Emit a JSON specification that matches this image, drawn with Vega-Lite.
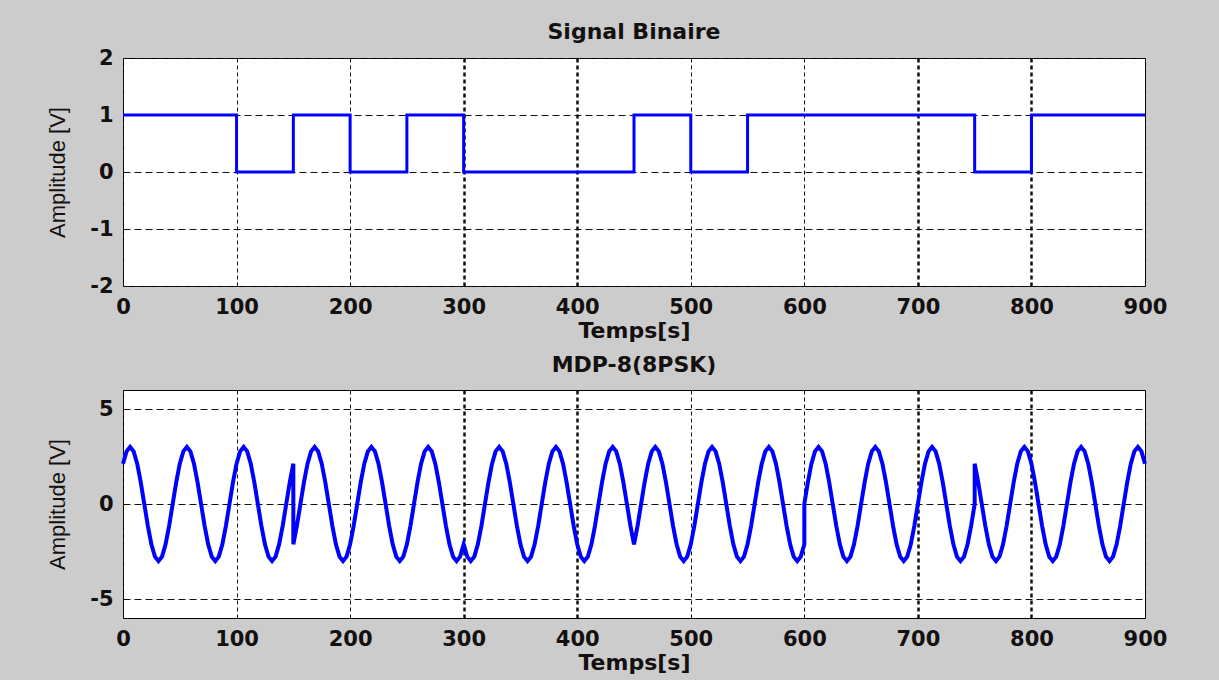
{
  "$schema": "https://vega.github.io/schema/vega-lite/v6.json",
  "background": "#cccccc",
  "padding": {"left": 46, "top": 20, "right": 51, "bottom": 6},
  "spacing": 11,
  "config": {
    "view": {"stroke": "#000000", "strokeWidth": 1, "fill": "#ffffff"},
    "axis": {
      "grid": true, "gridColor": "#111111", "gridOpacity": 1,
      "domain": false, "ticks": false,
      "labelFont": "DejaVu Sans", "labelFontSize": 21, "labelFontWeight": "bold", "labelColor": "#141010",
      "labelFlush": false, "labelOverlap": false, "labelPadding": 10,
      "titleFont": "DejaVu Sans", "titleFontSize": 22, "titleFontWeight": "bold", "titleColor": "#141010"
    },
    "axisX": {"gridDash": [4, 3], "labelPadding": 10, "titlePadding": 3},
    "axisY": {"gridDash": [7, 4], "gridWidth": 1, "labelExpr": "'' + datum.value", "titleFont": "Liberation Sans", "titleFontWeight": "normal", "titleFontSize": 22, "titlePadding": 20},
    "title": {"font": "DejaVu Sans", "fontSize": 22, "fontWeight": "bold", "color": "#141010"}
  },
  "datasets": {
    "binary": [
      {"t": 0, "v": 1}, {"t": 100, "v": 0}, {"t": 150, "v": 1}, {"t": 200, "v": 0},
      {"t": 250, "v": 1}, {"t": 300, "v": 0}, {"t": 450, "v": 1}, {"t": 500, "v": 0},
      {"t": 550, "v": 1}, {"t": 750, "v": 0}, {"t": 800, "v": 1}, {"t": 900, "v": 1}
    ],
    "psk": [
      {"t":0,"v":2.121},{"t":3.125,"v":2.772},{"t":6.25,"v":3},{"t":9.375,"v":2.772},{"t":12.5,"v":2.121},{"t":15.625,"v":1.148},{"t":18.75,"v":0},{"t":21.875,"v":-1.148},{"t":25,"v":-2.121},{"t":28.125,"v":-2.772},{"t":31.25,"v":-3},{"t":34.375,"v":-2.772},{"t":37.5,"v":-2.121},{"t":40.625,"v":-1.148},{"t":43.75,"v":0},{"t":46.875,"v":1.148},
      {"t":50,"v":2.121},{"t":53.125,"v":2.772},{"t":56.25,"v":3},{"t":59.375,"v":2.772},{"t":62.5,"v":2.121},{"t":65.625,"v":1.148},{"t":68.75,"v":0},{"t":71.875,"v":-1.148},{"t":75,"v":-2.121},{"t":78.125,"v":-2.772},{"t":81.25,"v":-3},{"t":84.375,"v":-2.772},{"t":87.5,"v":-2.121},{"t":90.625,"v":-1.148},{"t":93.75,"v":0},{"t":96.875,"v":1.148},
      {"t":100,"v":2.121},{"t":103.125,"v":2.772},{"t":106.25,"v":3},{"t":109.375,"v":2.772},{"t":112.5,"v":2.121},{"t":115.625,"v":1.148},{"t":118.75,"v":0},{"t":121.875,"v":-1.148},{"t":125,"v":-2.121},{"t":128.125,"v":-2.772},{"t":131.25,"v":-3},{"t":134.375,"v":-2.772},{"t":137.5,"v":-2.121},{"t":140.625,"v":-1.148},{"t":143.75,"v":0},{"t":146.875,"v":1.148},
      {"t":150,"v":2.121},
      {"t":150,"v":-2.121},{"t":153.125,"v":-1.148},{"t":156.25,"v":0},{"t":159.375,"v":1.148},{"t":162.5,"v":2.121},{"t":165.625,"v":2.772},{"t":168.75,"v":3},{"t":171.875,"v":2.772},{"t":175,"v":2.121},{"t":178.125,"v":1.148},{"t":181.25,"v":0},{"t":184.375,"v":-1.148},{"t":187.5,"v":-2.121},{"t":190.625,"v":-2.772},{"t":193.75,"v":-3},{"t":196.875,"v":-2.772},
      {"t":200,"v":-2.121},{"t":203.125,"v":-1.148},{"t":206.25,"v":0},{"t":209.375,"v":1.148},{"t":212.5,"v":2.121},{"t":215.625,"v":2.772},{"t":218.75,"v":3},{"t":221.875,"v":2.772},{"t":225,"v":2.121},{"t":228.125,"v":1.148},{"t":231.25,"v":0},{"t":234.375,"v":-1.148},{"t":237.5,"v":-2.121},{"t":240.625,"v":-2.772},{"t":243.75,"v":-3},{"t":246.875,"v":-2.772},
      {"t":250,"v":-2.121},{"t":253.125,"v":-1.148},{"t":256.25,"v":0},{"t":259.375,"v":1.148},{"t":262.5,"v":2.121},{"t":265.625,"v":2.772},{"t":268.75,"v":3},{"t":271.875,"v":2.772},{"t":275,"v":2.121},{"t":278.125,"v":1.148},{"t":281.25,"v":0},{"t":284.375,"v":-1.148},{"t":287.5,"v":-2.121},{"t":290.625,"v":-2.772},{"t":293.75,"v":-3},{"t":296.875,"v":-2.772},
      {"t":300,"v":-2.121},{"t":303.125,"v":-2.772},{"t":306.25,"v":-3},{"t":309.375,"v":-2.772},{"t":312.5,"v":-2.121},{"t":315.625,"v":-1.148},{"t":318.75,"v":0},{"t":321.875,"v":1.148},{"t":325,"v":2.121},{"t":328.125,"v":2.772},{"t":331.25,"v":3},{"t":334.375,"v":2.772},{"t":337.5,"v":2.121},{"t":340.625,"v":1.148},{"t":343.75,"v":0},{"t":346.875,"v":-1.148},
      {"t":350,"v":-2.121},{"t":353.125,"v":-2.772},{"t":356.25,"v":-3},{"t":359.375,"v":-2.772},{"t":362.5,"v":-2.121},{"t":365.625,"v":-1.148},{"t":368.75,"v":0},{"t":371.875,"v":1.148},{"t":375,"v":2.121},{"t":378.125,"v":2.772},{"t":381.25,"v":3},{"t":384.375,"v":2.772},{"t":387.5,"v":2.121},{"t":390.625,"v":1.148},{"t":393.75,"v":0},{"t":396.875,"v":-1.148},
      {"t":400,"v":-2.121},{"t":403.125,"v":-2.772},{"t":406.25,"v":-3},{"t":409.375,"v":-2.772},{"t":412.5,"v":-2.121},{"t":415.625,"v":-1.148},{"t":418.75,"v":0},{"t":421.875,"v":1.148},{"t":425,"v":2.121},{"t":428.125,"v":2.772},{"t":431.25,"v":3},{"t":434.375,"v":2.772},{"t":437.5,"v":2.121},{"t":440.625,"v":1.148},{"t":443.75,"v":0},{"t":446.875,"v":-1.148},
      {"t":450,"v":-2.121},{"t":453.125,"v":-1.148},{"t":456.25,"v":0},{"t":459.375,"v":1.148},{"t":462.5,"v":2.121},{"t":465.625,"v":2.772},{"t":468.75,"v":3},{"t":471.875,"v":2.772},{"t":475,"v":2.121},{"t":478.125,"v":1.148},{"t":481.25,"v":0},{"t":484.375,"v":-1.148},{"t":487.5,"v":-2.121},{"t":490.625,"v":-2.772},{"t":493.75,"v":-3},{"t":496.875,"v":-2.772},
      {"t":500,"v":-2.121},{"t":503.125,"v":-1.148},{"t":506.25,"v":0},{"t":509.375,"v":1.148},{"t":512.5,"v":2.121},{"t":515.625,"v":2.772},{"t":518.75,"v":3},{"t":521.875,"v":2.772},{"t":525,"v":2.121},{"t":528.125,"v":1.148},{"t":531.25,"v":0},{"t":534.375,"v":-1.148},{"t":537.5,"v":-2.121},{"t":540.625,"v":-2.772},{"t":543.75,"v":-3},{"t":546.875,"v":-2.772},
      {"t":550,"v":-2.121},{"t":553.125,"v":-1.148},{"t":556.25,"v":0},{"t":559.375,"v":1.148},{"t":562.5,"v":2.121},{"t":565.625,"v":2.772},{"t":568.75,"v":3},{"t":571.875,"v":2.772},{"t":575,"v":2.121},{"t":578.125,"v":1.148},{"t":581.25,"v":0},{"t":584.375,"v":-1.148},{"t":587.5,"v":-2.121},{"t":590.625,"v":-2.772},{"t":593.75,"v":-3},{"t":596.875,"v":-2.772},
      {"t":600,"v":-2.121},
      {"t":600,"v":0},{"t":603.125,"v":1.148},{"t":606.25,"v":2.121},{"t":609.375,"v":2.772},{"t":612.5,"v":3},{"t":615.625,"v":2.772},{"t":618.75,"v":2.121},{"t":621.875,"v":1.148},{"t":625,"v":0},{"t":628.125,"v":-1.148},{"t":631.25,"v":-2.121},{"t":634.375,"v":-2.772},{"t":637.5,"v":-3},{"t":640.625,"v":-2.772},{"t":643.75,"v":-2.121},{"t":646.875,"v":-1.148},
      {"t":650,"v":0},{"t":653.125,"v":1.148},{"t":656.25,"v":2.121},{"t":659.375,"v":2.772},{"t":662.5,"v":3},{"t":665.625,"v":2.772},{"t":668.75,"v":2.121},{"t":671.875,"v":1.148},{"t":675,"v":0},{"t":678.125,"v":-1.148},{"t":681.25,"v":-2.121},{"t":684.375,"v":-2.772},{"t":687.5,"v":-3},{"t":690.625,"v":-2.772},{"t":693.75,"v":-2.121},{"t":696.875,"v":-1.148},
      {"t":700,"v":0},{"t":703.125,"v":1.148},{"t":706.25,"v":2.121},{"t":709.375,"v":2.772},{"t":712.5,"v":3},{"t":715.625,"v":2.772},{"t":718.75,"v":2.121},{"t":721.875,"v":1.148},{"t":725,"v":0},{"t":728.125,"v":-1.148},{"t":731.25,"v":-2.121},{"t":734.375,"v":-2.772},{"t":737.5,"v":-3},{"t":740.625,"v":-2.772},{"t":743.75,"v":-2.121},{"t":746.875,"v":-1.148},
      {"t":750,"v":0},
      {"t":750,"v":2.121},{"t":753.125,"v":1.148},{"t":756.25,"v":0},{"t":759.375,"v":-1.148},{"t":762.5,"v":-2.121},{"t":765.625,"v":-2.772},{"t":768.75,"v":-3},{"t":771.875,"v":-2.772},{"t":775,"v":-2.121},{"t":778.125,"v":-1.148},{"t":781.25,"v":0},{"t":784.375,"v":1.148},{"t":787.5,"v":2.121},{"t":790.625,"v":2.772},{"t":793.75,"v":3},{"t":796.875,"v":2.772},
      {"t":800,"v":2.121},{"t":803.125,"v":1.148},{"t":806.25,"v":0},{"t":809.375,"v":-1.148},{"t":812.5,"v":-2.121},{"t":815.625,"v":-2.772},{"t":818.75,"v":-3},{"t":821.875,"v":-2.772},{"t":825,"v":-2.121},{"t":828.125,"v":-1.148},{"t":831.25,"v":0},{"t":834.375,"v":1.148},{"t":837.5,"v":2.121},{"t":840.625,"v":2.772},{"t":843.75,"v":3},{"t":846.875,"v":2.772},
      {"t":850,"v":2.121},{"t":853.125,"v":1.148},{"t":856.25,"v":0},{"t":859.375,"v":-1.148},{"t":862.5,"v":-2.121},{"t":865.625,"v":-2.772},{"t":868.75,"v":-3},{"t":871.875,"v":-2.772},{"t":875,"v":-2.121},{"t":878.125,"v":-1.148},{"t":881.25,"v":0},{"t":884.375,"v":1.148},{"t":887.5,"v":2.121},{"t":890.625,"v":2.772},{"t":893.75,"v":3},{"t":896.875,"v":2.772},
      {"t":900,"v":2.121}
    ]
  },
  "vconcat": [
    {
      "width": 1022,
      "height": 228,
      "title": {"text": "Signal Binaire", "offset": 3},
      "data": {"name": "binary"},
      "mark": {"type": "line", "interpolate": "step-after", "color": "#0000ff", "strokeWidth": 3},
      "encoding": {
        "x": {
          "field": "t", "type": "quantitative",
          "scale": {"domain": [0, 900], "nice": false},
          "axis": {
            "title": "Temps[s]",
            "values": [0, 100, 200, 300, 400, 500, 600, 700, 800, 900],
            "gridWidth": {"condition": {"test": "datum.value == 300 || datum.value == 400 || datum.value == 700 || datum.value == 800", "value": 2.5}, "value": 1}
          }
        },
        "y": {
          "field": "v", "type": "quantitative",
          "scale": {"domain": [-2, 2], "nice": false},
          "axis": {"title": "Amplitude [V]", "values": [-2, -1, 0, 1, 2]}
        }
      }
    },
    {
      "width": 1022,
      "height": 228,
      "title": {"text": "MDP-8(8PSK)", "offset": 13},
      "data": {"name": "psk"},
      "mark": {"type": "line", "color": "#0000ff", "strokeWidth": 4},
      "encoding": {
        "x": {
          "field": "t", "type": "quantitative",
          "scale": {"domain": [0, 900], "nice": false},
          "axis": {
            "title": "Temps[s]",
            "values": [0, 100, 200, 300, 400, 500, 600, 700, 800, 900],
            "gridWidth": {"condition": {"test": "datum.value == 300 || datum.value == 400 || datum.value == 700 || datum.value == 800", "value": 2.5}, "value": 1}
          }
        },
        "y": {
          "field": "v", "type": "quantitative",
          "scale": {"domain": [-6, 6], "nice": false},
          "axis": {"title": "Amplitude [V]", "values": [-5, 0, 5]}
        },
        "order": {"value": null}
      }
    }
  ]
}
